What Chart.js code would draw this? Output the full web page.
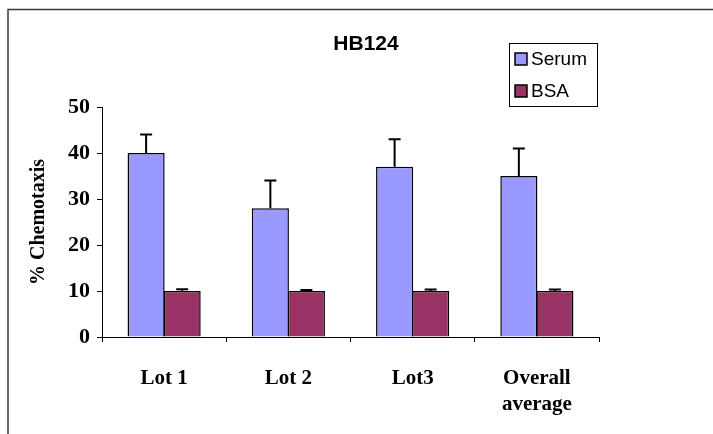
<!DOCTYPE html>
<html>
<head>
<meta charset="utf-8">
<title>HB124</title>
<script src="https://cdn.jsdelivr.net/npm/chart.js@4/dist/chart.umd.min.js"></script>
<style>
  html, body { margin: 0; padding: 0; background: #fff; }
  #wrap { width: 713px; height: 434px; position: relative; }
</style>
</head>
<body>
<div id="wrap"><canvas id="c" width="713" height="434"></canvas></div>
<script>
// Data
var CATEGORIES = ["Lot 1", "Lot 2", "Lot3", ["Overall", "average"]];
var SERUM = [40, 28, 37, 35];
var SERUM_ERR = [4, 6, 6, 6];
var BSA = [10, 10, 10, 10];
var BSA_ERR = [0.4, 0.2, 0.3, 0.3];
var Y_TICKS = [0, 10, 20, 30, 40, 50];

var SERIF = "'Liberation Serif', 'Times New Roman', serif";
var SANS = "'Liberation Sans', Arial, sans-serif";

// frame, title, legend and error bars, Excel style
var decor = {
  id: "decor",
  afterDatasetsDraw: function (chart) {
    var ctx = chart.ctx, y = chart.scales.y;
    ctx.save();
    ctx.strokeStyle = "#000";
    ctx.lineWidth = 2;
    chart.data.datasets.forEach(function (ds, di) {
      var meta = chart.getDatasetMeta(di);
      meta.data.forEach(function (bar, i) {
        var top = y.getPixelForValue(ds.data[i] + ds.errors[i]);
        var base = y.getPixelForValue(ds.data[i]);
        ctx.beginPath();
        ctx.moveTo(bar.x, base);
        ctx.lineTo(bar.x, top);
        ctx.moveTo(bar.x - 6, top);
        ctx.lineTo(bar.x + 6, top);
        ctx.stroke();
      });
    });
    ctx.restore();
  },
  afterDraw: function (chart) {
    var ctx = chart.ctx;
    ctx.save();
    // outer frame (only top and left edges are inside the picture)
    ctx.strokeStyle = "#3a3a3a";
    ctx.lineWidth = 1.5;
    ctx.beginPath();
    ctx.moveTo(8, 440);
    ctx.lineTo(8, 9.5);
    ctx.lineTo(720, 9.5);
    ctx.stroke();

    // title
    ctx.fillStyle = "#000";
    ctx.font = "bold 21px " + SANS;
    ctx.textAlign = "center";
    ctx.textBaseline = "middle";
    ctx.fillText("HB124", 366, 44);

    // legend
    ctx.strokeStyle = "#000";
    ctx.lineWidth = 1;
    ctx.strokeRect(509.5, 43.5, 88, 63);
    ctx.font = "19px " + SANS;
    ctx.textAlign = "left";
    var rows = [59, 91];
    chart.data.datasets.forEach(function (ds, i) {
      ctx.fillStyle = ds.backgroundColor;
      ctx.fillRect(515, rows[i] - 6, 12, 12);
      ctx.lineWidth = 1.5;
      ctx.strokeRect(515, rows[i] - 6, 12, 12);
      ctx.fillStyle = "#000";
      ctx.fillText(ds.label, 531, rows[i] + 1);
    });
    ctx.restore();
  }
};

new Chart(document.getElementById("c"), {
  type: "bar",
  data: {
    labels: CATEGORIES,
    datasets: [
      { label: "Serum", data: SERUM, errors: SERUM_ERR, backgroundColor: "#9999ff",
        borderColor: "#000", borderWidth: 1.5, categoryPercentage: 0.58, barPercentage: 1.03 },
      { label: "BSA", data: BSA, errors: BSA_ERR, backgroundColor: "#993366",
        borderColor: "#000", borderWidth: 1.5, categoryPercentage: 0.58, barPercentage: 1.03 }
    ]
  },
  plugins: [decor],
  options: {
    responsive: false,
    animation: false,
    layout: { padding: { left: 27, right: 114, top: 107, bottom: 0 } },
    plugins: { legend: { display: false }, title: { display: false }, tooltip: { enabled: false } },
    scales: {
      x: {
        afterFit: function (s) { s.height = 97; },
        border: { display: true, color: "#000", width: 1 },
        grid: { display: true, offset: true, drawOnChartArea: false, drawTicks: true, tickLength: 5, color: "#000" },
        ticks: { color: "#000", padding: 23, maxRotation: 0, font: { family: SERIF, size: 21, weight: "bold", lineHeight: 1.25 } }
      },
      y: {
        min: 0, max: 50,
        afterFit: function (s) { s.width = 75; },
        afterBuildTicks: function (s) { s.ticks = Y_TICKS.map(function (v) { return { value: v }; }); },
        border: { display: true, color: "#000", width: 1 },
        grid: { display: true, drawOnChartArea: false, drawTicks: true, tickLength: 5, color: "#000" },
        ticks: { color: "#000", padding: 7, font: { family: SERIF, size: 22, weight: "bold" } },
        title: { display: true, text: "% Chemotaxis", color: "#000", padding: 0,
                 font: { family: SERIF, size: 20, weight: "bold" } }
      }
    }
  }
});
</script>
</body>
</html>
